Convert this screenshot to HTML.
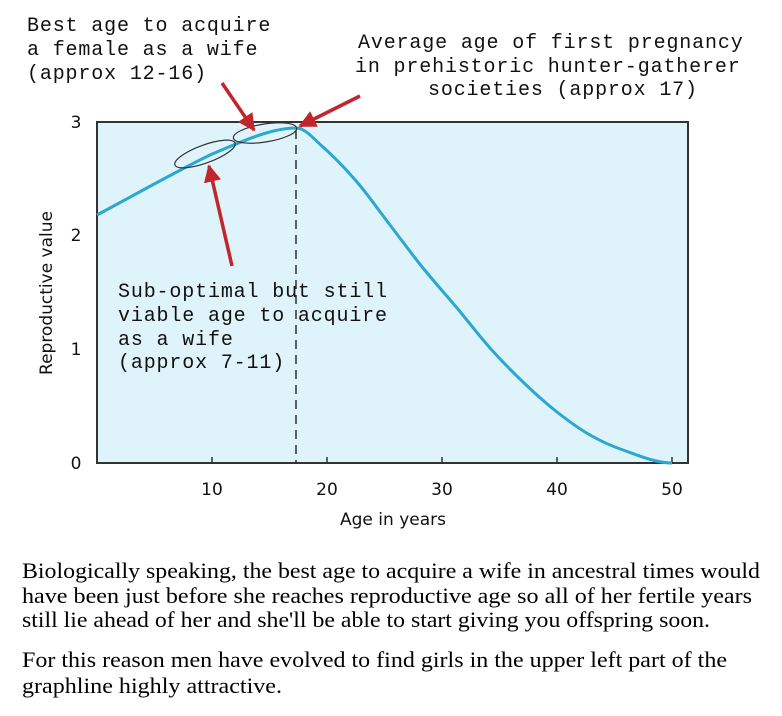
<!DOCTYPE html>
<html><head><meta charset="utf-8"><style>
body{margin:0;background:#fff;width:782px;height:716px;overflow:hidden;position:relative}
svg{position:absolute;left:0;top:0}
</style></head><body>
<svg width="782" height="716" xmlns="http://www.w3.org/2000/svg">
<defs><marker id="ah" viewBox="0 0 10 10" refX="9" refY="5" markerWidth="5" markerHeight="5" orient="auto"><path d="M0,0 L10,5 L0,10 z" fill="#c0262c"/></marker></defs>
<rect x="97" y="122" width="591" height="341" fill="#dff3fb" stroke="#333" stroke-width="2"/>
<g stroke="#333" stroke-width="1.5">
<line x1="212" y1="463" x2="212" y2="457"/><line x1="327" y1="463" x2="327" y2="457"/><line x1="442" y1="463" x2="442" y2="457"/><line x1="557" y1="463" x2="557" y2="457"/><line x1="672" y1="463" x2="672" y2="457"/>
</g>
<g font-family="DejaVu Sans,sans-serif" font-size="17" fill="#111" text-anchor="middle">
<text x="212" y="495">10</text><text x="327" y="495">20</text><text x="442" y="495">30</text><text x="557" y="495">40</text><text x="672" y="495">50</text>
<text x="76" y="469">0</text><text x="76" y="355">1</text><text x="76" y="241">2</text><text x="76" y="128">3</text>
<text x="393" y="525">Age in years</text>
<text transform="translate(52,293) rotate(-90)">Reproductive value</text>
</g>
<path d="M97,215 C140,192 175,172 210,155 C245,140 272,128 296,128 C305,128 312.8,138 323,147 C333.2,156 345.8,169 357,182 C368.2,195 379,210.7 390,225 C401,239.3 411.8,254.2 423,268 C434.2,281.8 445.8,294.7 457,308 C468.2,321.3 479,335.7 490,348 C501,360.3 511.8,371.3 523,382 C534.2,392.7 545.8,403.2 557,412 C568.2,420.8 579,428.7 590,435 C601,441.3 609.3,445.3 623,450 C636.7,454.7 655,463 672,463" fill="none" stroke="#2aa8cf" stroke-width="3" stroke-linejoin="round"/>
<line x1="296" y1="130" x2="296" y2="463" stroke="#111" stroke-width="1.3" stroke-dasharray="9,6"/>
<ellipse cx="205" cy="154" rx="32" ry="9" transform="rotate(-20 205 154)" fill="none" stroke="#333" stroke-width="1.2"/>
<ellipse cx="265" cy="133" rx="32" ry="9" transform="rotate(-9 265 133)" fill="none" stroke="#333" stroke-width="1.2"/>
<g stroke="#c0262c" stroke-width="3.5" fill="none" marker-end="url(#ah)">
<line x1="222" y1="83" x2="254" y2="130"/>
<line x1="360" y1="96" x2="300" y2="126"/>
<line x1="232" y1="266" x2="209" y2="166"/>
</g>
<g font-family="Liberation Mono,monospace" font-size="20" letter-spacing="0.85" fill="#111">
<text x="27" y="31">Best age to acquire</text>
<text x="27" y="55">a female as a wife</text>
<text x="27" y="79">(approx 12-16)</text>
<text x="358" y="48">Average age of first pregnancy</text>
<text x="355" y="72">in prehistoric hunter-gatherer</text>
<text x="428" y="95">societies (approx 17)</text>
<text x="118" y="297">Sub-optimal but still</text>
<text x="118" y="321">viable age to acquire</text>
<text x="118" y="345">as a wife</text>
<text x="118" y="368">(approx 7-11)</text>
</g>
<g font-family="Liberation Serif,serif" font-size="22" fill="#000">
<text x="22" y="578" textLength="738" lengthAdjust="spacingAndGlyphs">Biologically speaking, the best age to acquire a wife in ancestral times would</text>
<text x="22" y="603" textLength="730" lengthAdjust="spacingAndGlyphs">have been just before she reaches reproductive age so all of her fertile years</text>
<text x="22" y="627" textLength="688" lengthAdjust="spacingAndGlyphs">still lie ahead of her and she'll be able to start giving you offspring soon.</text>
<text x="22" y="667" textLength="705" lengthAdjust="spacingAndGlyphs">For this reason men have evolved to find girls in the upper left part of the</text>
<text x="22" y="693" textLength="260" lengthAdjust="spacingAndGlyphs">graphline highly attractive.</text>
</g>
</svg>
</body></html>
